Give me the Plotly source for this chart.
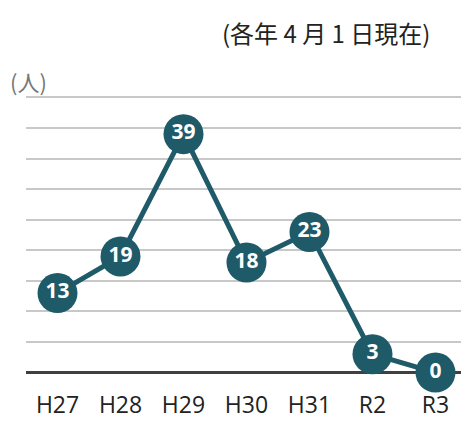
import plotly.graph_objects as go

# Fiscal years and headcount (persons)
years = ["H27", "H28", "H29", "H30", "H31", "R2", "R3"]
counts = [13, 19, 39, 18, 23, 3, 0]
y_ticks = [0, 5, 10, 15, 20, 25, 30, 35, 40, 45]

TEAL = "#1f5a69"
W, H = 461, 421
L, R, T, B = 26, 0, 94.5, 45.5

fig = go.Figure()
fig.add_trace(go.Scatter(
    x=years,
    y=counts,
    mode="lines+markers+text",
    text=[str(v) for v in counts],
    textposition="middle center",
    textfont=dict(family="Open Sans", size=21, color="white", weight="bold"),
    line=dict(color=TEAL, width=5),
    marker=dict(size=40, color=TEAL),
    cliponaxis=False,
    hoverinfo="skip",
))

fig.update_layout(
    width=W,
    height=H,
    margin=dict(l=L, r=R, t=T, b=B, pad=0),
    plot_bgcolor="white",
    paper_bgcolor="white",
    showlegend=False,
    xaxis=dict(
        type="category",
        range=[-0.5, 6.405],
        automargin=False,
        showgrid=False,
        showline=False,
        zeroline=False,
        ticks="outside",
        ticklen=9,
        tickcolor="rgba(0,0,0,0)",
        tickfont=dict(family="Open Sans", size=23, color="#222222"),
        fixedrange=True,
    ),
    yaxis=dict(
        range=[-0.4, 45.4],
        tickvals=y_ticks,
        automargin=False,
        showticklabels=False,
        showgrid=True,
        gridcolor="#c8c8c8",
        gridwidth=2,
        zeroline=True,
        zerolinecolor="#404040",
        zerolinewidth=3,
        showline=False,
        fixedrange=True,
    ),
    annotations=[
        dict(
            text="(各年 4 月 1 日現在)",
            xref="paper", yref="paper",
            x=(432 - L) / (W - L - R), y=(H - B - 32) / (H - T - B),
            xanchor="right", yanchor="middle",
            showarrow=False,
            font=dict(family="Noto Sans CJK JP", size=24, color="#222222"),
        ),
        dict(
            text="(人)",
            xref="paper", yref="paper",
            x=(8 - L) / (W - L - R), y=(H - B - 80) / (H - T - B),
            xanchor="left", yanchor="middle",
            showarrow=False,
            font=dict(family="Noto Sans CJK JP", size=22, color="#777777"),
        ),
    ],
)

fig.write_html("out.html")
